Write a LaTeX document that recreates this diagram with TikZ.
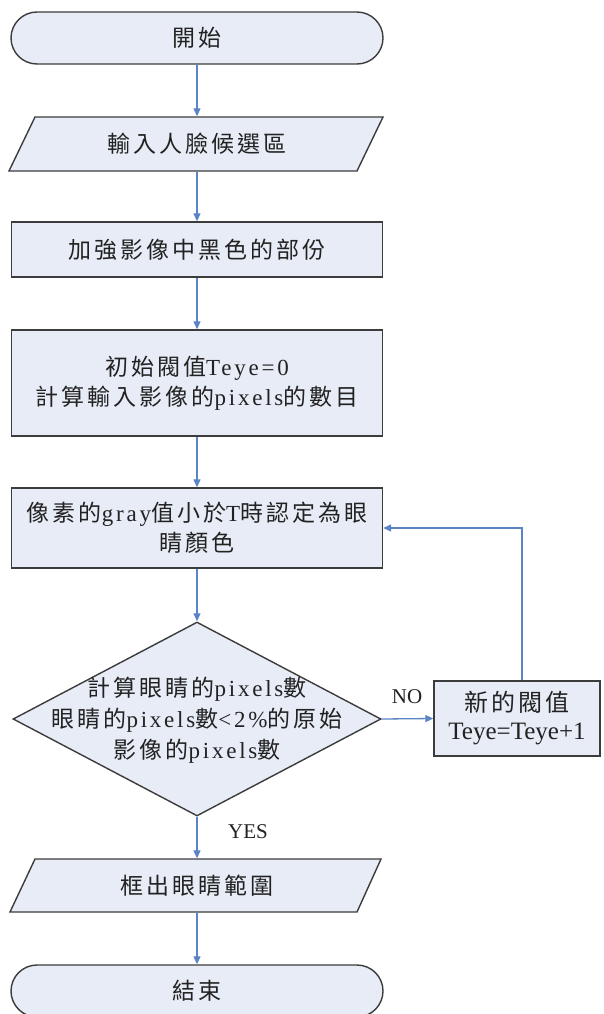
\documentclass[tikz,border=0pt]{standalone}
\usepackage{fontspec}
\usetikzlibrary{arrows.meta,shapes.geometric}
\setmainfont{Liberation Serif}
\newfontfamily\cjkfont[LetterSpace=13]{Noto Sans CJK TC}
\newfontfamily\latfont[LetterSpace=12]{Liberation Serif}
\newcommand\lw[1]{{\latfont #1}}
\definecolor{boxfill}{HTML}{E7ECF6}
\definecolor{boxline}{HTML}{3C3C3C}
\definecolor{flowblue}{HTML}{5B84C6}
\definecolor{txt}{HTML}{222222}
\tikzset{
  x=1pt, y=1pt,
  base/.style={draw=boxline, line width=1.4pt, fill=boxfill, text=txt,
    inner sep=0pt, align=center,
    font=\cjkfont\fontsize{23}{30}\selectfont},
  terminal/.style={base, rectangle, rounded corners=26pt,
    minimum width=372pt, minimum height=52pt},
  procbox/.style={base, rectangle, minimum width=371pt},
  iotext/.style={base, draw=none, fill=none, rectangle, minimum width=300pt},
  iofill/.style={draw=boxline, line width=1.4pt, fill=boxfill, line join=miter},
  decision/.style={base, diamond, minimum width=368pt, minimum height=194pt},
  plaintext/.style={text=txt, inner sep=0pt, align=center,
    font=\cjkfont\fontsize{23}{31}\selectfont},
  flow/.style={draw=flowblue, line width=1.3pt,
    -{Triangle[length=8pt,width=7pt]}},
  lbl/.style={text=txt, inner sep=0pt, font=\fontsize{21}{24}\selectfont}
}
\begin{document}
\begin{tikzpicture}
  \useasboundingbox (0,0) rectangle (603,-1014);
  \fill[white] (0,0) rectangle (603,-1014);

  % start terminal
  \node[terminal] (start) at (197,-38) {開始};

  % input parallelogram
  \filldraw[iofill] (35,-117) -- (383,-117) -- (357,-171) -- (9,-171) -- cycle;
  \node[iotext, minimum height=54pt] (input) at (197,-144) {輸入人臉候選區};

  % processing steps
  \node[procbox, minimum height=55pt] (enhance) at (197,-249.5) {加強影像中黑色的部份};
  \node[procbox, minimum height=106pt] (init) at (197,-383)
    {初始閥值\lw{Teye=0}\\計算輸入影像的\lw{pixels}的數目};
  \node[procbox, minimum height=80pt] (mark) at (197,-528)
    {像素的\lw{gray}值小於\lw{T}時認定為眼\\睛顏色};

  % decision
  \node[decision] (check) at (197,-719) {};
  \node[plaintext] (checktext) at (197,-720)
    {計算眼睛的\lw{pixels}數\\眼睛的\lw{pixels}數\lw{<2\%}的原始\\影像的\lw{pixels}數};

  % threshold update
  \node[base, rectangle, minimum width=166pt, minimum height=75pt,
        font=\cjkfont\fontsize{24}{28}\selectfont] (update) at (517,-718.5)
    {新的閥值\\{\fontspec{Liberation Serif}\fontsize{25}{28}\selectfont Teye=Teye+1}};

  % output parallelogram
  \filldraw[iofill] (35,-859) -- (381,-859) -- (357,-912) -- (10,-912) -- cycle;
  \node[iotext, minimum height=53pt] (output) at (197,-885.5) {框出眼睛範圍};

  % end terminal
  \node[terminal] (finish) at (197,-991) {結束};

  % connectors
  \draw[flow] (start) -- (input);
  \draw[flow] (input) -- (enhance);
  \draw[flow] (enhance) -- (init);
  \draw[flow] (init) -- (mark);
  \draw[flow] (mark) -- (check);
  \draw[flow] (check.east) -- (update.west);
  \draw[flow] ([xshift=5pt]update.north) |- (mark.east);
  \draw[flow] (check.south) -- (output);
  \draw[flow] (output) -- (finish);

  % branch labels
  \node[lbl] (nolabel) at (407,-697) {NO};
  \node[lbl] (yeslabel) at (248,-832) {YES};
\end{tikzpicture}
\end{document}
